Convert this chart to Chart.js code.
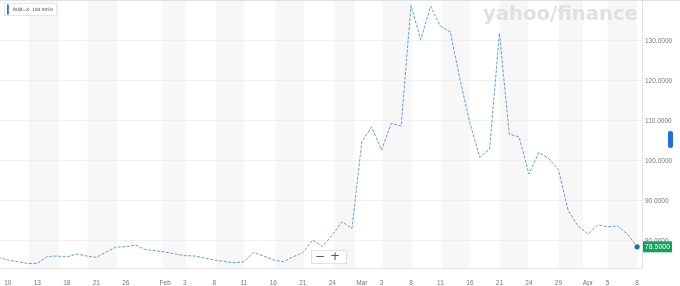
<!DOCTYPE html>
<html>
	<head>
		<title>RUB=X</title>
		<script src="https://cdnjs.cloudflare.com/ajax/libs/Chart.js/4.4.1/chart.umd.min.js"></script>
		<style>
			body {
				margin: 0;
				background: #fff;
			}
			.chart-container {
				width: 680px;
				height: 286px;
			}
		</style>
	</head>
	<body>
		<div class="chart-container">
			<canvas id="rubChart"></canvas>
		</div>
		<script>
			// Trading days, Jan 7 - Apr 8 2022
			const days = [
				"Jan 7", "Jan 10", "Jan 11", "Jan 12", "Jan 13", "Jan 14", "Jan 17", "Jan 18", "Jan 19", "Jan 20", "Jan 21",
				"Jan 24", "Jan 25", "Jan 26", "Jan 27", "Jan 28", "Jan 31",
				"Feb 1", "Feb 2", "Feb 3", "Feb 4", "Feb 7", "Feb 8", "Feb 9", "Feb 10", "Feb 11",
				"Feb 14", "Feb 15", "Feb 16", "Feb 17", "Feb 18", "Feb 21", "Feb 22", "Feb 23", "Feb 24", "Feb 25", "Feb 28",
				"Mar 1", "Mar 2", "Mar 3", "Mar 4", "Mar 7", "Mar 8", "Mar 9", "Mar 10", "Mar 11",
				"Mar 14", "Mar 15", "Mar 16", "Mar 17", "Mar 18", "Mar 21", "Mar 22", "Mar 23", "Mar 24", "Mar 25",
				"Mar 28", "Mar 29", "Mar 30", "Mar 31", "Apr 1", "Apr 4", "Apr 5", "Apr 6", "Apr 7", "Apr 8",
			];

			// USD/RUB close
			const rates = [
				75.9, 75.2, 74.75, 74.35, 74.35, 76.05, 76.2, 75.95, 76.7, 76.2, 75.85,
				77.2, 78.45, 78.5, 78.95, 77.8, 77.55,
				77.2, 76.7, 76.3, 76.2, 75.7, 75.2, 74.85, 74.5, 74.75,
				77.1, 76.2, 75.25, 74.75, 76.0, 77.0, 80.2, 78.55, 81.45, 84.75, 83.1,
				104.75, 108.5, 102.7, 109.35, 108.7, 138.9, 130.35, 138.7, 133.7,
				132.25, 120.2, 109.45, 100.905, 102.95, 131.95, 106.7, 106.0, 96.7, 102.1,
				100.6, 97.85, 87.5, 83.7, 81.7, 83.95, 83.5, 83.7, 81.7, 78.5,
			];

			const tickDays = [
				"Jan 10", "Jan 13", "Jan 18", "Jan 21", "Jan 26", "Feb 1", "Feb 3", "Feb 8", "Feb 11", "Feb 16", "Feb 21", "Feb 24",
				"Mar 1", "Mar 3", "Mar 8", "Mar 11", "Mar 16", "Mar 21", "Mar 24", "Mar 29", "Apr 1", "Apr 5", "Apr 8",
			];
			const tickLabels = ["10", "13", "18", "21", "26", "Feb", "3", "8", "11", "16", "21", "24", "Mar", "3", "8", "11", "16", "21", "24", "29", "Apr", "5", "8"];
			const yTicks = [80, 90, 100, 110, 120, 130];

			const legendText = "RUB=X: 100.9050";
			const last = rates.length - 1;

			// shaded background columns (in day index units)
			const bands = [
				[3.1, 6.2], [9.1, 12.1], [16.7, 19.1], [22.2, 25], [28.2, 31.1], [34.2, 36.3],
				[39.1, 42.1], [45.1, 48], [51, 53.9], [57, 59.5], [62, 65],
			];

			const decor = {
				id: "decor",
				beforeDraw(chart) {
					const { ctx, chartArea, scales } = chart;
					ctx.save();
					ctx.fillStyle = "#f7f7f7";
					bands.forEach(([a, b]) => {
						const x1 = scales.x.getPixelForValue(a);
						const x2 = scales.x.getPixelForValue(b);
						ctx.fillRect(x1, chartArea.top, x2 - x1, chartArea.bottom - chartArea.top);
					});
					ctx.restore();
				},
				beforeDatasetsDraw(chart) {
					const { ctx } = chart;
					ctx.save();
					// watermark
					const mark = "yahoo/finance";
					ctx.font = "bold 20px 'DejaVu Sans'";
					const w = ctx.measureText(mark).width;
					ctx.font = "bold " + (20 * 155 / w).toFixed(2) + "px 'DejaVu Sans'";
					ctx.fillStyle = "#e0e0e0";
					ctx.textBaseline = "middle";
					ctx.fillText(mark, 483, 15);
					ctx.restore();
				},
				afterDraw(chart) {
					const { ctx, scales, width } = chart;
					ctx.save();

					// top rule
					ctx.strokeStyle = "#e0e0e0";
					ctx.lineWidth = 1;
					ctx.beginPath();
					ctx.moveTo(0, 0.5);
					ctx.lineTo(width, 0.5);
					ctx.stroke();

					// legend box
					ctx.fillStyle = "#fff";
					ctx.strokeStyle = "#e6e6e6";
					ctx.fillRect(4.5, 3.5, 52, 12);
					ctx.strokeRect(4.5, 3.5, 52, 12);
					ctx.fillStyle = "#1f77d0";
					ctx.fillRect(7, 4.5, 1.8, 10);
					ctx.font = "5px 'DejaVu Sans'";
					const lw = ctx.measureText(legendText).width;
					ctx.font = (5 * 40 / lw).toFixed(2) + "px 'DejaVu Sans'";
					ctx.fillStyle = "#444";
					ctx.textBaseline = "middle";
					ctx.fillText(legendText, 13, 9.7);

					// zoom control
					ctx.fillStyle = "#fff";
					ctx.strokeStyle = "#e3e3e3";
					ctx.fillRect(311.5, 250.5, 35, 13);
					ctx.strokeRect(311.5, 250.5, 35, 13);
					ctx.fillStyle = "#555";
					ctx.font = "12px 'DejaVu Sans'";
					ctx.textAlign = "center";
					ctx.fillText("\u2212", 320, 257);
					ctx.fillText("+", 335, 257);

					// last value tag
					const ty = scales.y.getPixelForValue(rates[last]);
					ctx.fillStyle = "#12a15a";
					ctx.fillRect(643, ty - 5.5, 29, 11);
					ctx.fillStyle = "#fff";
					ctx.font = "7px 'Liberation Sans'";
					ctx.fillText(rates[last].toFixed(4), 657.5, ty + 0.5);

					// scroll handle
					ctx.fillStyle = "#1f6fe0";
					ctx.beginPath();
					ctx.roundRect(668, 131, 5, 17, 2);
					ctx.fill();
					ctx.restore();
				},
			};

			const config = {
				type: "line",
				data: {
					datasets: [
						{
							label: "RUB=X",
							data: days.map((d, i) => ({ x: i, y: rates[i] })),
							borderColor: "rgba(70, 145, 210, 0.85)",
							borderWidth: 1,
							borderDash: [3, 1.5],
							tension: 0,
							pointRadius: (c) => (c.dataIndex === last ? 2.6 : 0),
							pointBackgroundColor: "#1d6db5",
							pointBorderWidth: 0,
						},
					],
				},
				options: {
					responsive: true,
					maintainAspectRatio: false,
					animation: false,
					layout: { padding: { top: 1 }, autoPadding: false },
					plugins: {
						legend: { display: false },
						tooltip: { enabled: false },
					},
					scales: {
						x: {
							type: "linear",
							min: 0.2,
							max: 65.5,
							afterBuildTicks: (s) => {
								s.ticks = tickDays.map((d) => ({ value: days.indexOf(d) }));
							},
							afterFit: (s) => {
								s.height = 18;
								s.paddingLeft = 0;
								s.paddingRight = 0;
							},
							ticks: {
								autoSkip: false,
								maxRotation: 0,
								padding: 3,
								color: "#777",
								font: { family: "'Liberation Sans'", size: 6.5 },
								callback: (v, i) => tickLabels[i],
							},
							grid: { display: false },
							border: { display: true, color: "#e3e3e3" },
						},
						y: {
							position: "right",
							min: 73.2,
							max: 140,
							afterBuildTicks: (s) => {
								s.ticks = yTicks.map((v) => ({ value: v }));
							},
							afterFit: (s) => {
								s.width = 38;
								s.paddingTop = 0;
								s.paddingBottom = 0;
							},
							ticks: {
								padding: 3,
								color: "#777",
								font: { family: "'Liberation Sans'", size: 6.5 },
								callback: (v) => v.toFixed(4),
							},
							grid: { color: "#f0f0f0", drawTicks: false },
							border: { display: true, color: "#e3e3e3" },
						},
					},
				},
				plugins: [decor],
			};

			new Chart(document.getElementById("rubChart"), config);
		</script>
	</body>
</html>
